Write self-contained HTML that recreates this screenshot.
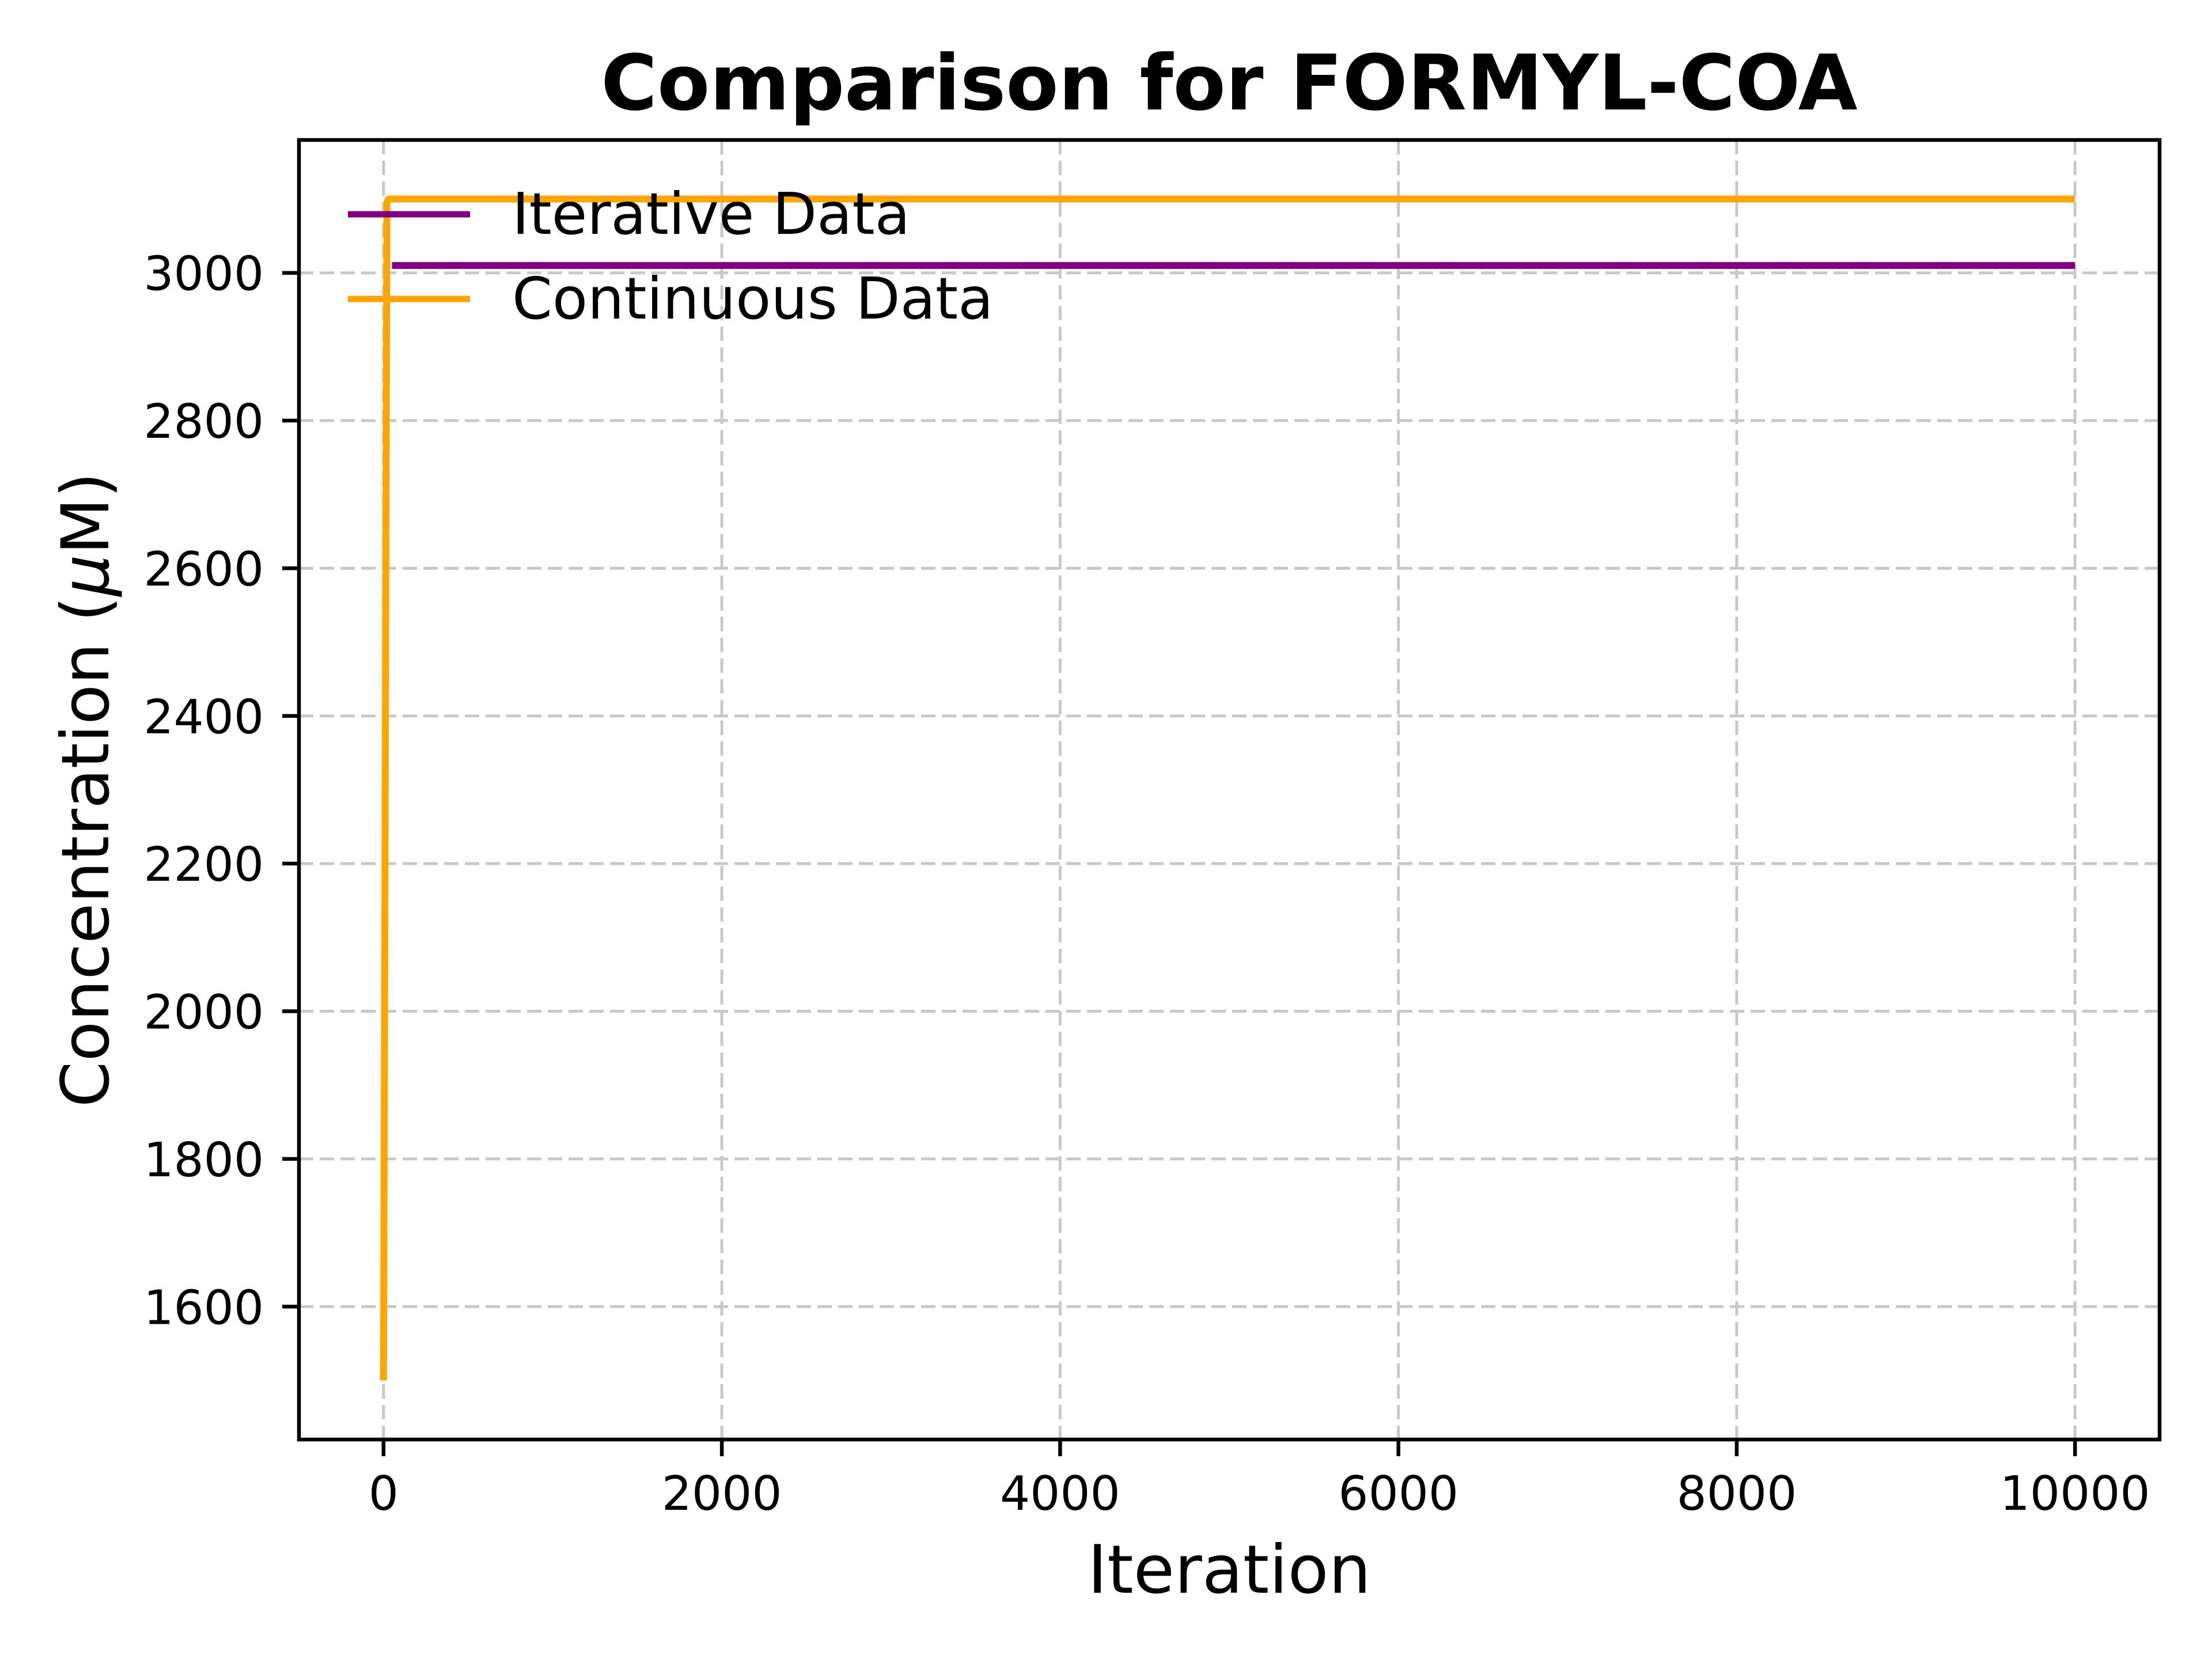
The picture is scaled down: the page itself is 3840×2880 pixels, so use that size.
<!DOCTYPE html>
<html><head><meta charset="utf-8"><style>
html,body{margin:0;padding:0;background:#fff;}
svg{display:block;font-family:"DejaVu Sans","Liberation Sans",sans-serif;}
</style></head><body>
<svg id="chart" width="3840" height="2880" viewBox="0 0 3840 2880" xmlns="http://www.w3.org/2000/svg">
<rect width="3840" height="2880" fill="#fff"/>
<g id="grid"></g>
<g id="series"></g>
<rect x="519" y="243" width="3230" height="2256" fill="none" stroke="#000" stroke-width="6.5"/>
<g id="ticks"></g>
<text x="2134" y="190" text-anchor="middle" font-size="133" font-weight="bold">Comparison for FORMYL-COA</text>
<text x="2134" y="2765" text-anchor="middle" font-size="116">Iteration</text>
<text transform="translate(188,1371) rotate(-90)" text-anchor="middle" font-size="114">Concentration (<tspan font-style="italic">μ</tspan>M)</text>
<g>
<g>
<line x1="604" y1="372" x2="816" y2="372" stroke="#800080" stroke-width="11"/>
<text x="889" y="406" font-size="100">Iterative Data</text>
</g>
<g>
<line x1="604" y1="519" x2="816" y2="519" stroke="#FFA500" stroke-width="11"/>
<text x="889" y="553" font-size="100">Continuous Data</text>
</g>
</g>
</svg>
<script>
const xTicks = [0, 2000, 4000, 6000, 8000, 10000];
const yTicks = [1600, 1800, 2000, 2200, 2400, 2600, 2800, 3000];
const iterX = [50, 10000];
const iterY = [3010, 3010];
const contX = [0, 20, 30, 10000];
const contY = [1500, 3095, 3100, 3100];
const xMin = -500, xMax = 10500, yMin = 1420, yMax = 3180;
const L = 519, R = 3749, T = 243, B = 2499;
function sx(v){ return L + (v - xMin) / (xMax - xMin) * (R - L); }
function sy(v){ return B - (v - yMin) / (yMax - yMin) * (B - T); }
const NS = "http://www.w3.org/2000/svg";
function mk(tag, attrs, parent){
  const e = document.createElementNS(NS, tag);
  for (const k in attrs) e.setAttribute(k, attrs[k]);
  parent.appendChild(e); return e;
}
const grid = document.getElementById('grid');
const ticks = document.getElementById('ticks');
xTicks.forEach(v => {
  const x = sx(v);
  const g = mk('line', {x1:x, y1:T, x2:x, y2:B, stroke:'#c8c8c8', 'stroke-width':5, 'stroke-dasharray':'25 11'}, grid);
  
  
  const t = mk('line', {x1:x, y1:B, x2:x, y2:B+29, stroke:'#000', 'stroke-width':6.5}, ticks);
  
  
  const l = mk('text', {x:x, y:2621, 'text-anchor':'middle', 'font-size':82}, ticks);
  l.textContent = String(v);
  
  
});
yTicks.forEach(v => {
  const y = sy(v);
  const g = mk('line', {x1:L, y1:y, x2:R, y2:y, stroke:'#c8c8c8', 'stroke-width':5, 'stroke-dasharray':'25 11'}, grid);
  
  
  const t = mk('line', {x1:L-29, y1:y, x2:L, y2:y, stroke:'#000', 'stroke-width':6.5}, ticks);
  
  
  const l = mk('text', {x:458, y:y+30, 'text-anchor':'end', 'font-size':82}, ticks);
  l.textContent = String(v);
  
  
});
const series = document.getElementById('series');
function pts(xs, ys){ return xs.map((x,i)=> sx(x).toFixed(1)+','+sy(ys[i]).toFixed(1)).join(' '); }
const p1 = mk('polyline', {points:pts(iterX, iterY), fill:'none', stroke:'#800080', 'stroke-width':12, 'stroke-linejoin':'round'}, series);


const p2 = mk('polyline', {points:pts(contX, contY), fill:'none', stroke:'#FFA500', 'stroke-width':12, 'stroke-linejoin':'round'}, series);


</script>
</body></html>
